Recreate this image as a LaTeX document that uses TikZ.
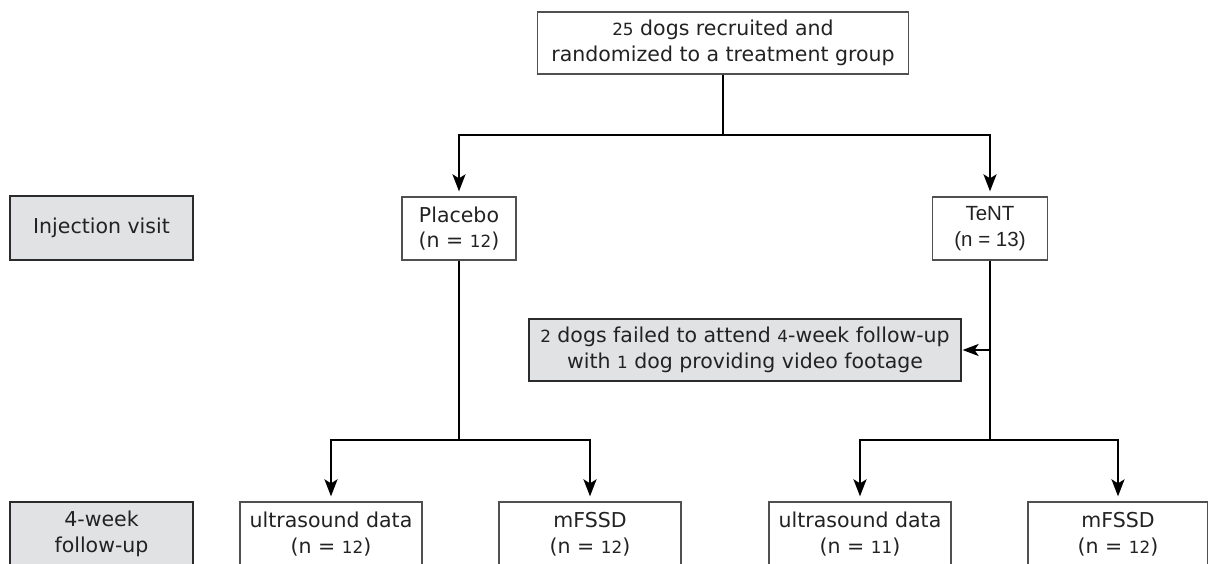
\documentclass[tikz,border=0pt]{standalone}
\usepackage{fontspec}
\setmainfont{DejaVu Sans}
\newfontfamily\arialfont{Liberation Sans}
\usetikzlibrary{arrows.meta}
\definecolor{grayfill}{HTML}{E1E2E4}
\definecolor{grayborder}{HTML}{2B2B2B}
\definecolor{boxborder}{HTML}{505050}
\definecolor{txt}{HTML}{222222}
\newcommand\os[1]{\scalebox{0.82}{#1}}
\tikzset{
  basebox/.style={align=center, inner sep=0pt, text=txt,
    font=\fontsize{20.5}{25.5}\selectfont},
  wbox/.style={basebox, draw=boxborder, line width=1.3pt, fill=white},
  gbox/.style={basebox, draw=grayborder, line width=2.2pt, fill=grayfill},
  ln/.style={line width=2.2pt, draw=black},
  arr/.style={ln, -{Stealth[length=17pt,width=13pt,inset=4pt]}, shorten >=5pt},
  sarr/.style={ln, -{Stealth[length=16pt,width=12pt,inset=4pt]}, shorten >=0.5pt},
}
\begin{document}
\begin{tikzpicture}[x=1pt,y=-1pt]
\useasboundingbox (0,0) rectangle (1208,564);
\begin{scope}
\clip (0,0) rectangle (1208,564);
\node[wbox, minimum width=371pt, minimum height=62pt] (top) at (723,43) {\os{25} dogs recruited and\\randomized to a treatment group};
\node[gbox, minimum width=183pt, minimum height=64pt] (inj) at (101.5,228) {Injection visit};
\node[wbox, minimum width=114pt, minimum height=63pt] (plac) at (459,228.5) {Placebo\\(n = \os{12})};
\node[wbox, minimum width=115pt, minimum height=63pt, font=\arialfont\fontsize{20.5}{26}\selectfont] (tent) at (990,228.5) {TeNT\\(n = 13)};
\node[gbox, minimum width=432pt, minimum height=62pt] (mid) at (745,350) {\os{2} dogs failed to attend \os{4}-week follow-up\\with \os{1} dog providing video footage};
\node[gbox, minimum width=183pt, minimum height=64pt] (fu) at (101.5,534) {4-week\\follow-up};
\node[wbox, minimum width=182pt, minimum height=64pt] (usL) at (331,534) {ultrasound data\\(n = \os{12})};
\node[wbox, minimum width=182pt, minimum height=64pt] (mfL) at (590,534) {mFSSD\\(n = \os{12})};
\node[wbox, minimum width=182pt, minimum height=64pt] (usR) at (860,534) {ultrasound data\\(n = \os{11})};
\node[wbox, minimum width=180pt, minimum height=64pt] (mfR) at (1118,534) {mFSSD\\(n = \os{12})};
\coordinate (ya) at (0,135);
\coordinate (yb) at (0,440);
\coordinate (j0) at (top.south |- ya);
\draw[ln] (top.south) -- (j0);
\draw[arr] (j0) -| (plac.north);
\draw[arr] (j0) -| (tent.north);
\coordinate (jL) at (plac.south |- yb);
\coordinate (jR) at (tent.south |- yb);
\draw[ln] (plac.south) -- (jL);
\draw[ln] (tent.south) -- (jR);
\draw[arr] (jL) -| (usL.north);
\draw[arr] (jL) -| (mfL.north);
\draw[arr] (jR) -| (usR.north);
\draw[arr] (jR) -| (mfR.north);
\coordinate (js) at (tent.south |- mid.east);
\draw[sarr] (js) -- (mid.east);
\end{scope}
\end{tikzpicture}
\end{document}
